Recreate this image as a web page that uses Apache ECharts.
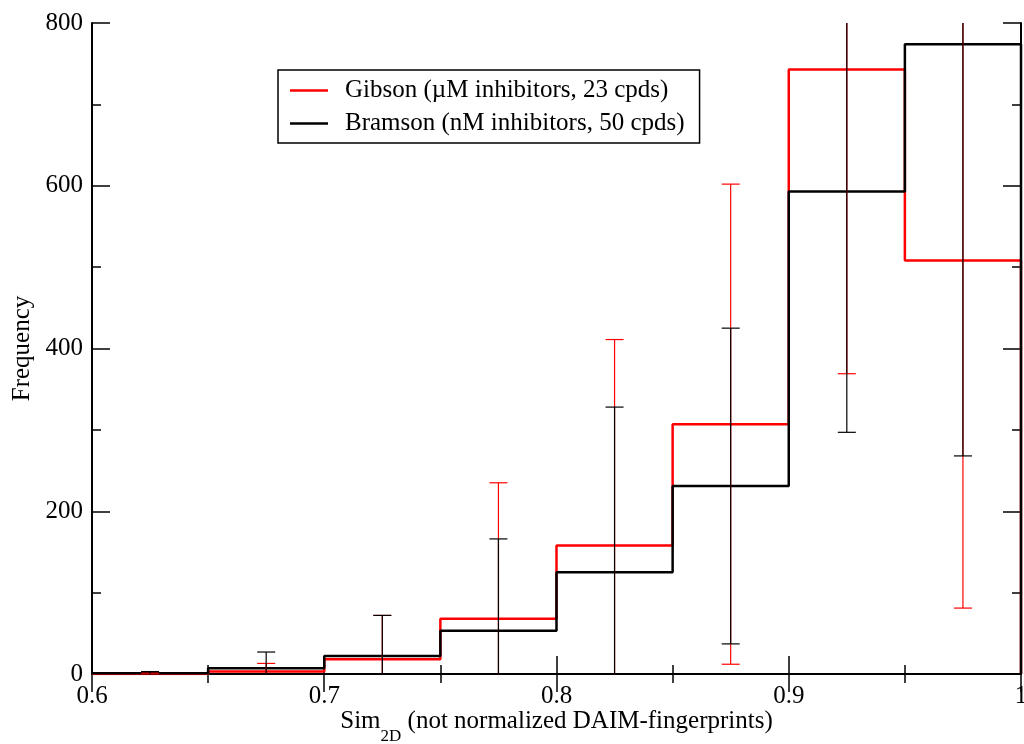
<!DOCTYPE html>
<html>
<head>
<meta charset="utf-8">
<script src="https://cdn.jsdelivr.net/npm/echarts@6/dist/echarts.min.js"></script>
<style>
  html, body { margin: 0; padding: 0; background: #fff; }
  #chart { width: 1024px; height: 744px; }
</style>
</head>
<body>
<div id="chart"></div>
<script>
// bin edges (left side of each 0.05 bin)
var binStart = [0.6, 0.65, 0.7, 0.75, 0.8, 0.85, 0.9, 0.95];
var binEnd = 1.0;
var binCenter = [0.625, 0.675, 0.725, 0.775, 0.825, 0.875, 0.925, 0.975];

// histogram heights
var gibson = [0, 3, 18, 68, 158, 307, 743, 508];
var bramson = [1, 7, 22, 53, 125, 231, 593, 774];

// error bar half-widths
var gibsonErr = [1, 10, 54, 167, 253, 295, 374, 427];
var bramsonErr = [2, 20, 50, 113, 203, 194, 296, 506];

var xTicks = { min: 0.6, max: 1.0, interval: 0.1 };
var yTicks = { min: 0, max: 800, interval: 200 };

var names = ['Gibson (\u00b5M inhibitors, 23 cpds)', 'Bramson (nM inhibitors, 50 cpds)'];
var FONT = '"Liberation Serif", "DejaVu Serif", serif';

// build step line points from bin values
function stepData(vals) {
    var pts = [];
    for (var i = 0; i < vals.length; i++) pts.push([binStart[i], vals[i]]);
    pts.push([binEnd, vals[vals.length - 1]]);
    pts.push([binEnd, 0]);
    return pts;
}

// error bar data: [x, low, high]
function errData(vals, errs) {
    return binCenter.map(function (x, i) {
        return [x, vals[i] - errs[i], vals[i] + errs[i]];
    });
}

function errRender(color) {
    return function (params, api) {
        var cs = params.coordSys;
        var x = api.value(0);
        var top = api.coord([x, api.value(2)]);
        var bot = api.coord([x, api.value(1)]);
        var yTop = Math.max(top[1], cs.y);
        var yBot = Math.min(bot[1], cs.y + cs.height);
        var style = { stroke: color, lineWidth: 1.2 };
        var half = 9;
        var kids = [{
            type: 'line',
            shape: { x1: top[0], y1: yTop, x2: top[0], y2: yBot },
            style: style
        }];
        if (top[1] >= cs.y) kids.push({
            type: 'line', shape: { x1: top[0] - half, y1: top[1], x2: top[0] + half, y2: top[1] }, style: style
        });
        if (bot[1] <= cs.y + cs.height) kids.push({
            type: 'line', shape: { x1: bot[0] - half, y1: bot[1], x2: bot[0] + half, y2: bot[1] }, style: style
        });
        return { type: 'group', children: kids };
    };
}

var axisLine = { show: true, lineStyle: { color: '#000', width: 2 } };
var tick = { show: true, inside: true, length: 18, lineStyle: { color: '#000', width: 1.5 } };
var minor = { show: true, splitNumber: 2, length: 9, lineStyle: { color: '#000', width: 1.5 } };

var option = {
    animation: false,
    backgroundColor: '#fff',
    grid: { left: 92, right: 3, top: 23, bottom: 70, containLabel: false, outerBoundsMode: 'none' },
    legend: {
        data: names,
        orient: 'vertical',
        left: 278,
        top: 70,
        padding: [8, 15, 7, 12],
        itemGap: 8,
        itemWidth: 38,
        itemHeight: 2.5,
        icon: 'rect',
        borderColor: '#000',
        borderWidth: 1.5,
        borderRadius: 0,
        selectedMode: false,
        textStyle: { fontFamily: FONT, fontSize: 25, color: '#000', padding: [0, 0, 0, 12] }
    },
    xAxis: [{
        type: 'value',
        min: xTicks.min, max: xTicks.max, interval: xTicks.interval,
        axisLine: axisLine, axisTick: tick, minorTick: minor,
        splitLine: { show: false },
        axisLabel: { fontFamily: FONT, fontSize: 25, color: '#000', margin: 10 },
        name: '{a|Sim}{s|2D}{a| (not normalized DAIM-fingerprints)}',
        nameLocation: 'middle',
        nameGap: 35,
        nameMoveOverlap: false,
        nameTextStyle: {
            rich: {
                a: { fontFamily: FONT, fontSize: 25, color: '#000', lineHeight: 30, verticalAlign: 'top' },
                s: { fontFamily: FONT, fontSize: 17, color: '#000', lineHeight: 17, verticalAlign: 'top', padding: [19, 0, 0, 0] }
            }
        }
    }, {
        type: 'value', position: 'top',
        min: xTicks.min, max: xTicks.max, interval: xTicks.interval,
        axisLine: axisLine, axisTick: tick, minorTick: minor,
        splitLine: { show: false }, axisLabel: { show: false }
    }],
    yAxis: [{
        type: 'value',
        min: yTicks.min, max: yTicks.max, interval: yTicks.interval,
        axisLine: axisLine, axisTick: tick, minorTick: minor,
        splitLine: { show: false },
        axisLabel: { fontFamily: FONT, fontSize: 25, color: '#000', margin: 9 },
        name: 'Frequency',
        nameLocation: 'middle',
        nameRotate: 90,
        nameGap: 57,
        nameMoveOverlap: false,
        nameTextStyle: { fontFamily: FONT, fontSize: 25, color: '#000' }
    }, {
        type: 'value', position: 'right',
        min: yTicks.min, max: yTicks.max, interval: yTicks.interval,
        axisLine: axisLine, axisTick: tick, minorTick: minor,
        splitLine: { show: false }, axisLabel: { show: false }
    }],
    series: [{
        name: names[0],
        type: 'line',
        step: 'end',
        showSymbol: false,
        color: '#ff0000',
        lineStyle: { color: '#ff0000', width: 2.5 },
        data: stepData(gibson),
        z: 2
    }, {
        name: names[1],
        type: 'line',
        step: 'end',
        showSymbol: false,
        color: '#000',
        lineStyle: { color: '#000', width: 2.5 },
        data: stepData(bramson),
        z: 3
    }, {
        name: 'gibsonErr',
        type: 'custom',
        renderItem: errRender('#ff0000'),
        encode: { x: 0, y: [1, 2] },
        data: errData(gibson, gibsonErr),
        z: 4
    }, {
        name: 'bramsonErr',
        type: 'custom',
        renderItem: errRender('#000'),
        encode: { x: 0, y: [1, 2] },
        data: errData(bramson, bramsonErr),
        z: 5
    }]
};

var chart = echarts.init(document.getElementById('chart'));
chart.setOption(option);
</script>
</body>
</html>
